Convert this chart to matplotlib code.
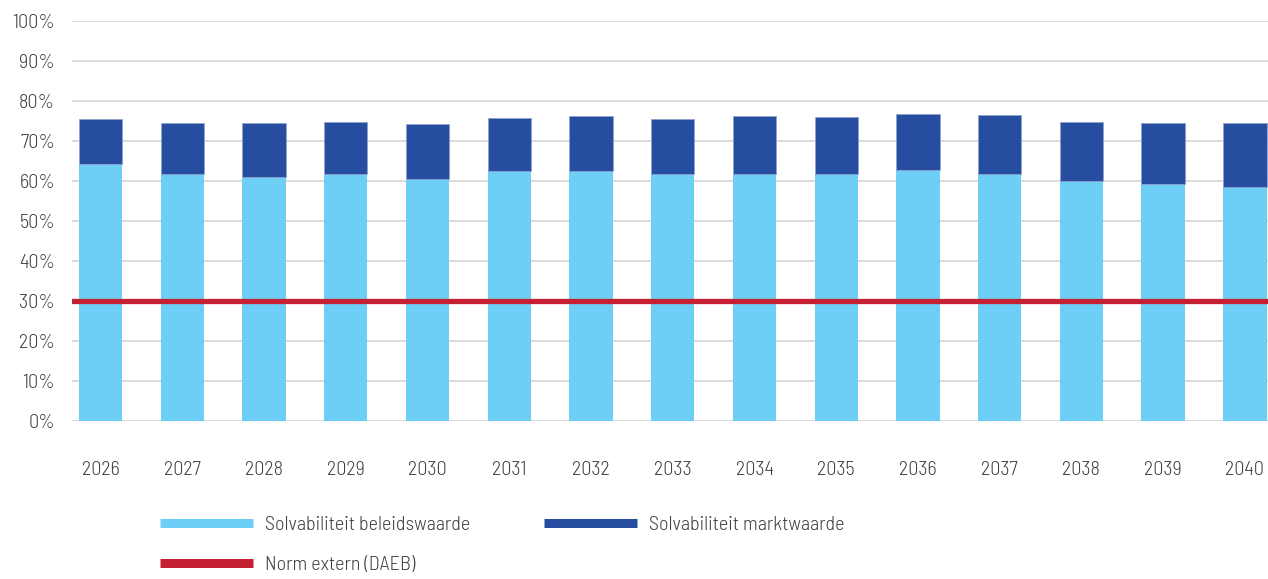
import matplotlib.pyplot as plt
from matplotlib.lines import Line2D
import numpy as np

plt.rcParams['font.family'] = ['Barlow Semi Condensed', 'Roboto Condensed', 'DejaVu Sans']
plt.rcParams['font.weight'] = 300

years = ['2026', '2027', '2028', '2029', '2030', '2031', '2032', '2033',
         '2034', '2035', '2036', '2037', '2038', '2039', '2040']
beleidswaarde = [64.3, 61.8, 61.0, 61.8, 60.5, 62.5, 62.5, 61.8,
                 61.8, 61.8, 62.8, 61.8, 60.0, 59.3, 58.5]
totaal_markt = [75.4, 74.4, 74.4, 74.7, 74.2, 75.8, 76.2, 75.4,
                76.2, 76.0, 76.7, 76.5, 74.8, 74.4, 74.4]
norm = 30
yticks = [0, 10, 20, 30, 40, 50, 60, 70, 80, 90, 100]

light = '#6dcff6'
dark = '#264d9f'
red = '#c62033'
txt = '#404040'

markt = [t - b for t, b in zip(totaal_markt, beleidswaarde)]
x = np.arange(len(years))

fig = plt.figure(figsize=(12.68, 5.79), dpi=100)
ax = fig.add_axes([72/1268, 1 - 421/579, (1273.5 - 72)/1268, 400/579])

ax.bar(x, beleidswaarde, width=0.53, color=light, zorder=2)
ax.bar(x, markt, bottom=beleidswaarde, width=0.53, color=dark,
       edgecolor='#8fa3cf', linewidth=0.6, zorder=2)
ax.axhline(norm, color=red, linewidth=3.8, zorder=3)

ax.set_ylim(0, 100)
ax.set_xlim(-0.35, len(years) - 0.65)
ax.set_yticks(yticks)
ax.set_yticklabels([f'{v}%' for v in yticks])
ax.set_xticks(x)
ax.set_xticklabels(years)
ax.grid(axis='y', color='#d4d4d4', linewidth=1.2, zorder=0)
ax.set_axisbelow(True)
for s in ax.spines.values():
    s.set_visible(False)
ax.tick_params(axis='y', length=0, pad=12, labelsize=14.5, labelcolor=txt)
ax.tick_params(axis='x', length=0, pad=28.5, labelsize=14.5, labelcolor=txt)

handles = [Line2D([], [], color=light, linewidth=6.5, solid_capstyle='butt'),
           Line2D([], [], color=red, linewidth=6.5, solid_capstyle='butt'),
           Line2D([], [], color=dark, linewidth=6.5, solid_capstyle='butt')]
labels = ['Solvabiliteit beleidswaarde', 'Norm extern (DAEB)',
          'Solvabiliteit marktwaarde']
fig.legend(handles, labels, ncol=2, loc='upper left',
           bbox_to_anchor=(160/1268, 1 - 516/579), frameon=False,
           fontsize=14.5, labelcolor=txt, handlelength=4.6, handletextpad=0.6,
           columnspacing=3.7, labelspacing=1.1, borderpad=0, borderaxespad=0)

fig.savefig('out.png', dpi=100)
